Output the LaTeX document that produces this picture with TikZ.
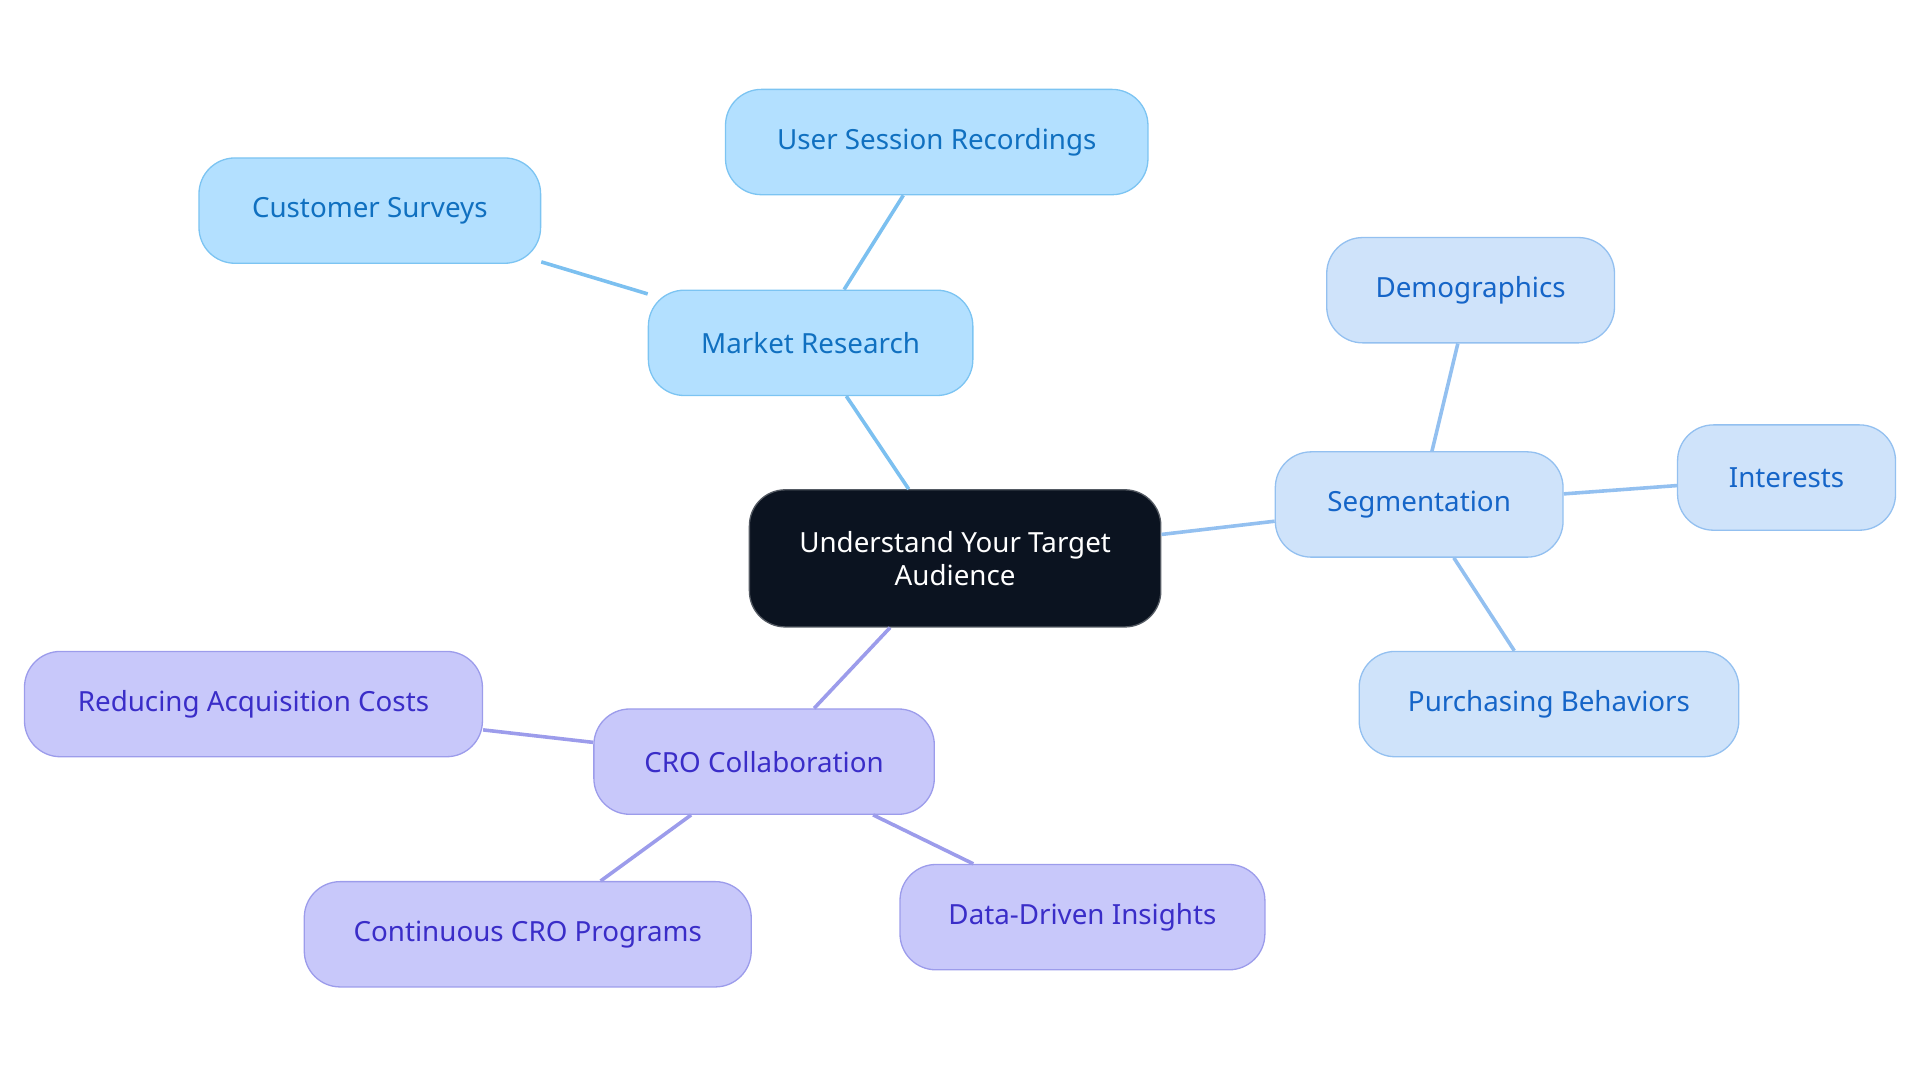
\documentclass[tikz,border=0pt]{standalone}
\usepackage{fontspec}
\setmainfont{Noto Sans}
\begin{document}
\begin{tikzpicture}[x=0.75pt,y=-0.75pt,
  box/.style={draw,rounded corners=22pt,line width=0.8pt,align=center,inner sep=0pt,font=\fontsize{17}{20}\selectfont},
  mr/.style={box,fill=c1f,draw=c1d,text=c1t},
  sg/.style={box,fill=c2f,draw=c2d,text=c2t},
  cr/.style={box,fill=c3f,draw=c3d,text=c3t},
  e1/.style={draw=c1e,line width=2.2pt},
  e2/.style={draw=c2e,line width=2.2pt},
  e3/.style={draw=c3e,line width=2.2pt}]
\definecolor{c1f}{HTML}{B3E0FF}\definecolor{c1d}{HTML}{7CC4F2}\definecolor{c1t}{HTML}{1070C0}\definecolor{c1e}{HTML}{7CC0F0}
\definecolor{c2f}{HTML}{CFE3FA}\definecolor{c2d}{HTML}{93C0F0}\definecolor{c2t}{HTML}{1565C8}\definecolor{c2e}{HTML}{93C0F0}
\definecolor{c3f}{HTML}{C8C8FA}\definecolor{c3d}{HTML}{9C9CEB}\definecolor{c3t}{HTML}{3A2DC8}\definecolor{c3e}{HTML}{9C9CEB}
\definecolor{dk}{HTML}{0B1320}
\useasboundingbox (0,0) rectangle (1568,884);
\node[box,fill=dk,draw=dk!70!white,text=white,minimum width=336*0.75pt,minimum height=112*0.75pt] (c) at (780,456) {Understand Your Target\\Audience};
\node[mr,minimum width=265*0.75pt,minimum height=86*0.75pt] (m) at (662,280) {Market Research};
\node[mr,minimum width=345*0.75pt,minimum height=86*0.75pt] (m1) at (765,116) {User Session Recordings};
\node[mr,minimum width=279*0.75pt,minimum height=86*0.75pt] (m2) at (302,172) {Customer Surveys};
\node[sg,minimum width=235*0.75pt,minimum height=86*0.75pt] (s) at (1159,412) {Segmentation};
\node[sg,minimum width=235*0.75pt,minimum height=86*0.75pt] (s1) at (1201,237) {Demographics};
\node[sg,minimum width=178*0.75pt,minimum height=86*0.75pt] (s2) at (1459,390) {Interests};
\node[sg,minimum width=310*0.75pt,minimum height=86*0.75pt] (s3) at (1265,575) {Purchasing Behaviors};
\node[cr,minimum width=278*0.75pt,minimum height=86*0.75pt] (r) at (624,622) {CRO Collaboration};
\node[cr,minimum width=374*0.75pt,minimum height=86*0.75pt] (r1) at (207,575) {Reducing Acquisition Costs};
\node[cr,minimum width=365*0.75pt,minimum height=86*0.75pt] (r2) at (431,763) {Continuous CRO Programs};
\node[cr,minimum width=298*0.75pt,minimum height=86*0.75pt] (r3) at (884,749) {Data-Driven Insights};
\path[e1] (c) -- (m); \path[e1] (m) -- (m1); \path[e1] (m) -- (m2);
\path[e2] (c) -- (s); \path[e2] (s) -- (s1); \path[e2] (s) -- (s2); \path[e2] (s) -- (s3);
\path[e3] (c) -- (r); \path[e3] (r) -- (r1); \path[e3] (r) -- (r2); \path[e3] (r) -- (r3);
\end{tikzpicture}
\end{document}
